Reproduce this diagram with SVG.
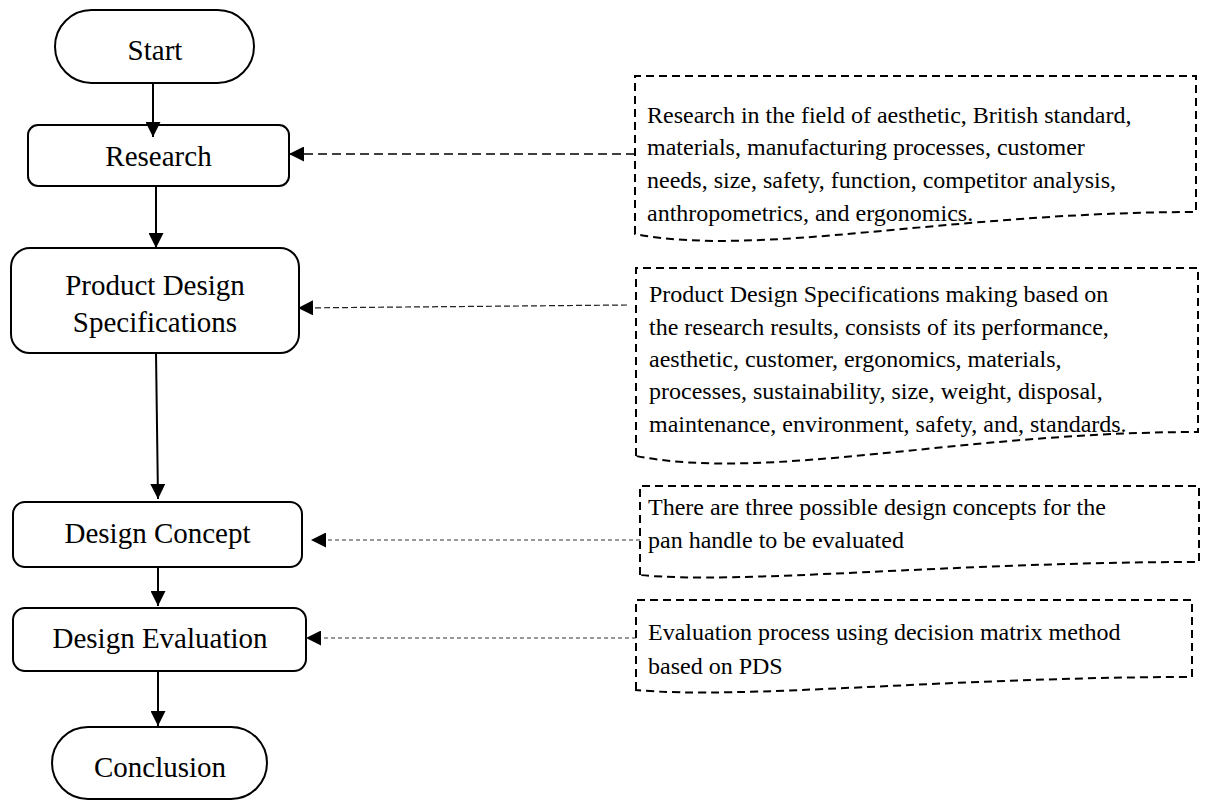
<svg xmlns="http://www.w3.org/2000/svg" width="1207" height="805" viewBox="0 0 1207 805">
  <style>
    .node { fill: #ffffff; stroke: #000000; stroke-width: 2; }
    .note { fill: none; stroke: #000000; stroke-width: 2; stroke-dasharray: 8 5; }
    .label { font-family: "Liberation Serif", "Times New Roman", serif; font-size: 29px; fill: #000000; text-anchor: middle; }
    .body { font-family: "Liberation Serif", "Times New Roman", serif; font-size: 24px; fill: #000000; }
    .flow { fill: none; stroke: #000000; stroke-width: 2; }
    .link-a { fill: none; stroke: #000000; stroke-width: 1.6; stroke-dasharray: 9 5; }
    .link-b { fill: none; stroke: #222222; stroke-width: 1.2; stroke-dasharray: 6 3; }
    .link-c { fill: none; stroke: #333333; stroke-width: 1.1; stroke-dasharray: 4 3; }
  </style>
  <defs>
    <marker id="head" markerUnits="userSpaceOnUse" markerWidth="16" markerHeight="15" refX="15" refY="7.5" orient="auto">
      <path d="M0,0 L15,7.5 L0,15 z" fill="#000000"/>
    </marker>
  </defs>

  <rect width="1207" height="805" fill="#ffffff"/>

  <!-- process steps -->
  <g id="start">
    <rect class="node" x="55" y="10" width="199" height="73" rx="36.5" ry="36.5"/>
    <text class="label" x="155" y="60">Start</text>
  </g>
  <g id="research">
    <rect class="node" x="28" y="125" width="261" height="61" rx="10" ry="10"/>
    <text class="label" x="158.5" y="166">Research</text>
  </g>
  <g id="pds">
    <rect class="node" x="11" y="248" width="288" height="105" rx="19" ry="19"/>
    <text class="label" x="155" y="295">Product Design</text>
    <text class="label" x="155" y="332">Specifications</text>
  </g>
  <g id="design-concept">
    <rect class="node" x="13" y="502" width="289" height="65" rx="12" ry="12"/>
    <text class="label" x="157.5" y="543">Design Concept</text>
  </g>
  <g id="design-evaluation">
    <rect class="node" x="13" y="608" width="293" height="63" rx="12" ry="12"/>
    <text class="label" x="160" y="648">Design Evaluation</text>
  </g>
  <g id="conclusion">
    <rect class="node" x="52" y="727" width="215" height="72" rx="36" ry="36"/>
    <text class="label" x="160" y="777">Conclusion</text>
  </g>

  <!-- notes (document shapes) -->
  <g id="note-research">
    <path class="note" d="M635,234 L635,76 L1196,76 L1196,212 C950,212 760,258 635,234 Z"/>
    <text class="body" x="647" y="123">Research in the field of aesthetic, British standard,</text>
    <text class="body" x="647" y="155">materials, manufacturing processes, customer</text>
    <text class="body" x="647" y="188">needs, size, safety, function, competitor analysis,</text>
    <text class="body" x="647" y="221">anthropometrics, and ergonomics.</text>
  </g>
  <g id="note-pds">
    <path class="note" d="M636,456 L636,268 L1198,268 L1198,432 C960,432 770,482 636,456 Z"/>
    <text class="body" x="649" y="302">Product Design Specifications making based on</text>
    <text class="body" x="649" y="335">the research results, consists of its performance,</text>
    <text class="body" x="649" y="367">aesthetic, customer, ergonomics, materials,</text>
    <text class="body" x="649" y="399">processes, sustainability, size, weight, disposal,</text>
    <text class="body" x="649" y="432">maintenance, environment, safety, and, standards.</text>
  </g>
  <g id="note-concept">
    <path class="note" d="M640,575 L640,486 L1199,486 L1199,562 C950,562 740,585 640,575 Z"/>
    <text class="body" x="648" y="515">There are three possible design concepts for the</text>
    <text class="body" x="648" y="548">pan handle to be evaluated</text>
  </g>
  <g id="note-evaluation">
    <path class="note" d="M636,690 L636,600 L1192,600 L1192,677 C950,677 740,700 636,690 Z"/>
    <text class="body" x="648" y="640">Evaluation process using decision matrix method</text>
    <text class="body" x="648" y="674">based on PDS</text>
  </g>

  <!-- connectors -->
  <g id="connectors">
    <line class="flow" x1="153" y1="83" x2="153" y2="137" marker-end="url(#head)"/>
    <line class="flow" x1="156" y1="186" x2="156" y2="248" marker-end="url(#head)"/>
    <line class="flow" x1="156" y1="353" x2="158" y2="499" marker-end="url(#head)"/>
    <line class="flow" x1="158" y1="567" x2="158" y2="606" marker-end="url(#head)"/>
    <line class="flow" x1="158" y1="671" x2="158" y2="726" marker-end="url(#head)"/>

    <line class="link-a" x1="635" y1="154" x2="289" y2="154" marker-end="url(#head)"/>
    <line class="link-b" x1="627" y1="305" x2="298" y2="308" marker-end="url(#head)"/>
    <line class="link-c" x1="640" y1="540" x2="311" y2="540" marker-end="url(#head)"/>
    <line class="link-c" x1="636" y1="638" x2="306" y2="638" marker-end="url(#head)"/>
  </g>
</svg>
